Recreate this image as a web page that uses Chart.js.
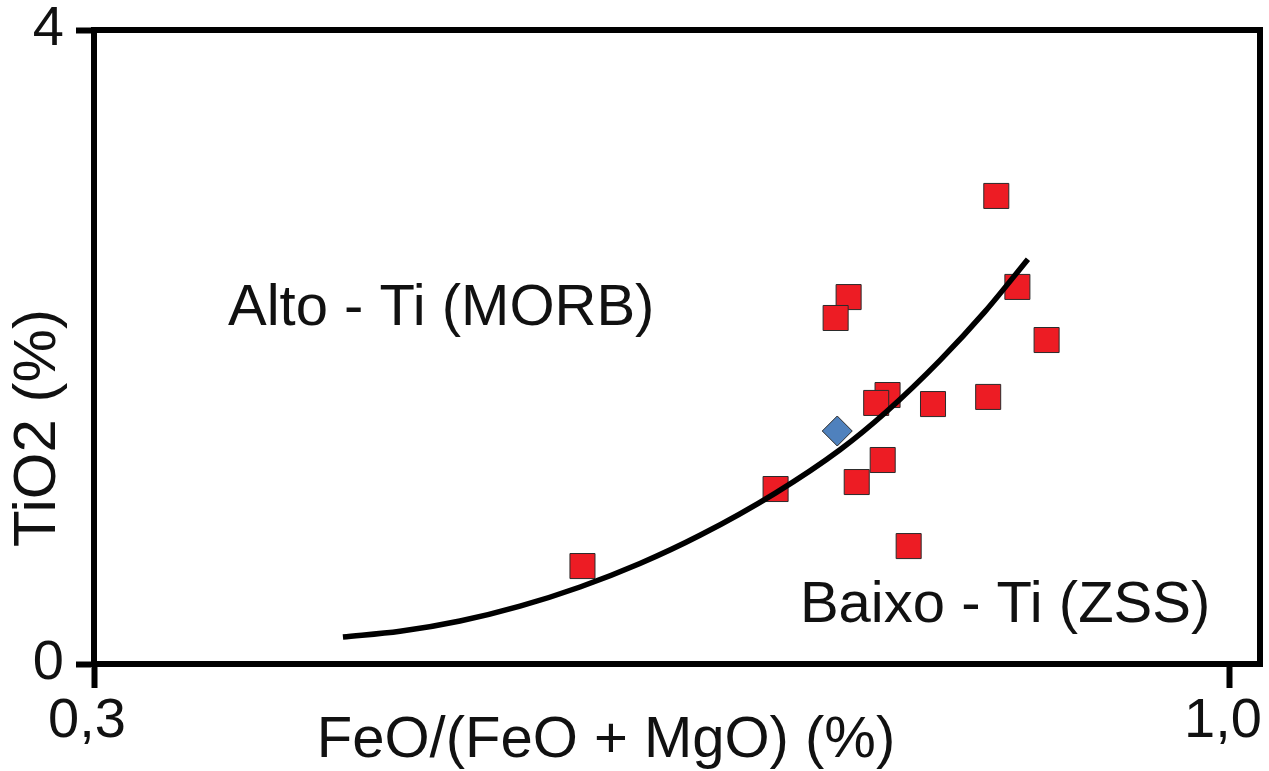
<!DOCTYPE html>
<html>
<head>
<meta charset="utf-8">
<title>TiO2 vs FeO/(FeO + MgO)</title>
<script src="https://cdn.jsdelivr.net/npm/chart.js@4/dist/chart.umd.min.js"></script>
<style>
  html, body { margin: 0; padding: 0; background: #fff; }
  #wrap { width: 1269px; height: 771px; }
</style>
</head>
<body>
<div id="wrap"><canvas id="c" width="1269" height="771"></canvas></div>
<script>
// Sample analyses: FeO/(FeO + MgO) ratio and TiO2 (%)
const sampleFeORatio = [0.856, 0.869, 0.887, 0.851, 0.817, 0.789, 0.782, 0.786, 0.770, 0.802, 0.765, 0.757, 0.720, 0.601];
const sampleTiO2     = [2.953, 2.379, 2.044, 1.685, 1.640, 1.697, 1.647, 1.287, 1.148, 0.744, 2.315, 2.183, 1.104, 0.618];

// Reference composition (diamond)
const refFeORatio = [0.758];
const refTiO2     = [1.470];

// Dividing curve between the high-Ti and low-Ti fields
const curveFeORatio = [0.4534, 0.4886, 0.5255, 0.5625, 0.5995, 0.6364, 0.6734, 0.7196, 0.7597, 0.7886, 0.8213, 0.8490, 0.8755];
const curveTiO2     = [0.170, 0.206, 0.271, 0.365, 0.486, 0.634, 0.812, 1.077, 1.352, 1.595, 1.916, 2.223, 2.554];

// Axis ticks
const xTickValues = [0.3, 1.0];
const xTickLabels = ['0,3', '1,0'];
const yTickValues = [0, 4];
const yTickLabels = ['0', '4'];

// Field names and axis titles
const fieldNames = ['Alto - Ti (MORB)', 'Baixo - Ti (ZSS)'];
const xTitle = 'FeO/(FeO + MgO) (%)';
const yTitle = 'TiO2 (%)';

const FONT = "'Liberation Sans', Arial, Helvetica, sans-serif";

const toPoints = (xs, ys) => xs.map((v, i) => ({ x: v, y: ys[i] }));

// Keep the axes from reserving extra room for their end labels
const noEdgePadding = (scale) => {
  scale.paddingLeft = 0;
  scale.paddingRight = 0;
  scale.paddingTop = 0;
  scale.paddingBottom = 0;
};

// Frame (top and right edges) plus field names and axis titles
const framePlugin = {
  id: 'frameAndText',
  afterDraw(chart, args, opts) {
    const { ctx, chartArea: a, scales: { x, y } } = chart;
    ctx.save();
    ctx.strokeStyle = '#000';
    ctx.lineWidth = 6;
    ctx.lineCap = 'square';
    ctx.beginPath();
    ctx.moveTo(a.left, a.top);
    ctx.lineTo(a.right, a.top);
    ctx.lineTo(a.right, a.bottom);
    ctx.stroke();

    ctx.fillStyle = '#111';
    ctx.font = '58px ' + FONT;
    ctx.textBaseline = 'alphabetic';
    ctx.textAlign = 'left';
    opts.fields.forEach((f, i) => {
      ctx.fillText(fieldNames[i], x.getPixelForValue(f.x), y.getPixelForValue(f.y));
    });

    ctx.font = '58px ' + FONT;
    ctx.textAlign = 'center';
    ctx.fillText(xTitle, x.getPixelForValue(opts.xTitleAt), a.bottom + opts.xTitleOffset);

    ctx.font = '60px ' + FONT;
    ctx.translate(a.left - opts.yTitleOffset, y.getPixelForValue(opts.yTitleAt));
    ctx.rotate(-Math.PI / 2);
    ctx.fillText(yTitle, 0, 0);
    ctx.restore();
  }
};

new Chart(document.getElementById('c'), {
  type: 'scatter',
  data: {
    datasets: [
      {
        label: 'curve',
        data: toPoints(curveFeORatio, curveTiO2),
        showLine: true,
        borderColor: '#000',
        borderWidth: 5.5,
        pointRadius: 0,
        pointHoverRadius: 0,
        cubicInterpolationMode: 'monotone',
        order: 0
      },
      {
        label: 'reference',
        data: toPoints(refFeORatio, refTiO2),
        pointStyle: 'rectRot',
        pointRadius: 15,
        backgroundColor: '#4f81bd',
        borderColor: '#2b2b2b',
        borderWidth: 1,
        order: 1
      },
      {
        label: 'samples',
        data: toPoints(sampleFeORatio, sampleTiO2),
        pointStyle: 'rect',
        pointRadius: 17.7,
        backgroundColor: '#ed1c24',
        borderColor: '#2b2b2b',
        borderWidth: 1,
        order: 2
      }
    ]
  },
  options: {
    responsive: false,
    animation: false,
    devicePixelRatio: 1,
    layout: { autoPadding: false, padding: { top: 30, right: 9, left: 0, bottom: 0 } },
    plugins: {
      legend: { display: false },
      tooltip: { enabled: false },
      frameAndText: {
        fields: [{ x: 0.3826, y: 2.139 }, { x: 0.735, y: 0.265 }],
        xTitleAt: 0.6155,
        xTitleOffset: 93,
        yTitleAt: 1.489,
        yTitleOffset: 39
      }
    },
    scales: {
      x: {
        type: 'linear',
        min: 0.3,
        max: 1.0185,
        afterBuildTicks: (axis) => { axis.ticks = xTickValues.map(v => ({ value: v })); },
        afterFit: (scale) => { scale.height = 107; noEdgePadding(scale); },
        ticks: {
          autoSkip: false,
          maxRotation: 0,
          padding: 0,
          labelOffset: -7,
          color: '#111',
          font: { family: FONT, size: 56 },
          callback: (value, index) => xTickLabels[index]
        },
        grid: {
          drawOnChartArea: false,
          drawTicks: true,
          tickLength: 24,
          tickWidth: 6,
          tickColor: '#000'
        },
        border: { display: true, color: '#000', width: 6 }
      },
      y: {
        type: 'linear',
        min: 0,
        max: 4,
        afterBuildTicks: (axis) => { axis.ticks = yTickValues.map(v => ({ value: v })); },
        afterFit: (scale) => { scale.width = 94; noEdgePadding(scale); },
        ticks: {
          autoSkip: false,
          padding: 12,
          color: '#111',
          font: { family: FONT, size: 56 },
          callback: (value, index) => yTickLabels[index]
        },
        grid: {
          drawOnChartArea: false,
          drawTicks: true,
          tickLength: 18,
          tickWidth: 6,
          tickColor: '#000'
        },
        border: { display: true, color: '#000', width: 6 }
      }
    }
  },
  plugins: [framePlugin]
});
</script>
</body>
</html>
